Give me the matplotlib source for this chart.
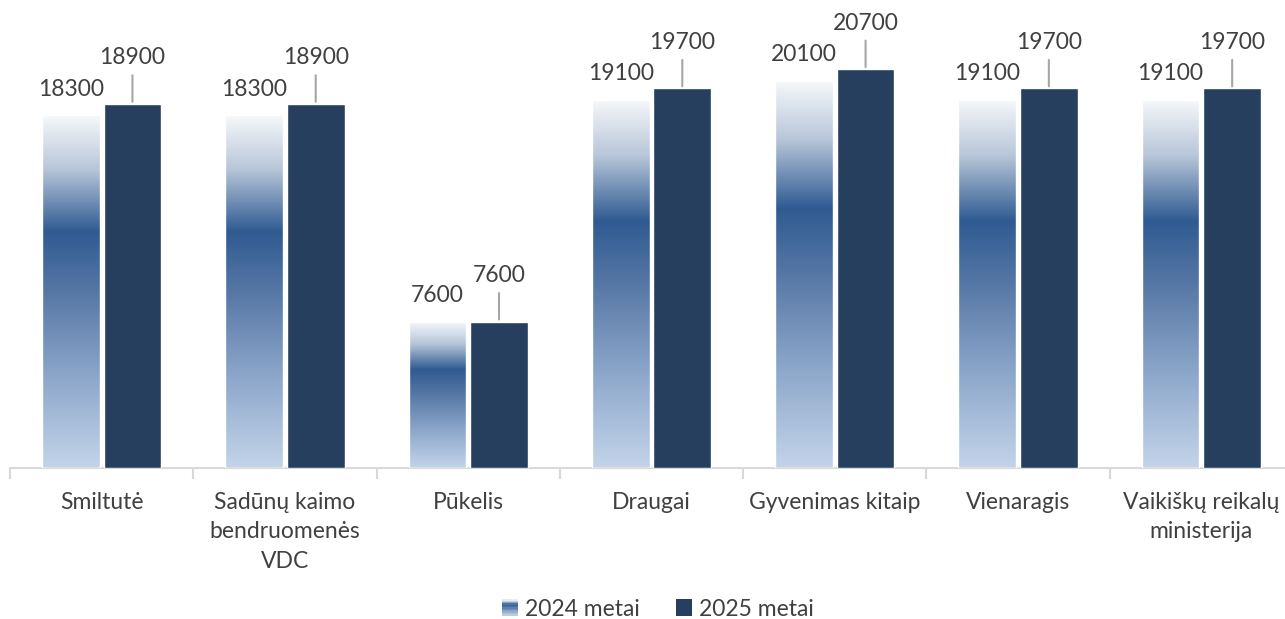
import matplotlib
matplotlib.use("Agg")
import matplotlib.pyplot as plt
import numpy as np
from matplotlib.colors import LinearSegmentedColormap
from matplotlib.legend_handler import HandlerBase
from matplotlib.patches import Rectangle

categories = [
    "Smiltutė",
    "Sadūnų kaimo\nbendruomenės\nVDC",
    "Pūkelis",
    "Draugai",
    "Gyvenimas kitaip",
    "Vienaragis",
    "Vaikiškų reikalų\nministerija",
]
values_2024 = [18300, 18300, 7600, 19100, 20100, 19100, 19100]
values_2025 = [18900, 18900, 7600, 19700, 20700, 19700, 19700]
series_names = ["2024 metai", "2025 metai"]

FONT = ["Lato", "DejaVu Sans"]
TXT = "#404040"
NAVY = "#263F5F"
FS = 16.5
GRAD = LinearSegmentedColormap.from_list(
    "bar24",
    [(0.0, "#F6F8FB"), (0.15, "#B9C7D9"), (0.33, "#2F5B92"),
     (0.5, "#5677A5"), (0.75, "#8EA8CB"), (1.0, "#C3D4E9")],
)

plt.rcParams["font.family"] = FONT

fig = plt.figure(figsize=(12.85, 6.19), dpi=100)
ax = fig.add_axes([10 / 1285, 1 - 468 / 619, 1283 / 1285, 468 / 619])

x = np.arange(len(categories))
w = 0.315
off = 0.168

# 2024: empty bar outline, gradient image clipped to it
bars24 = ax.bar(x - off, values_2024, w, facecolor="none", edgecolor="white", linewidth=1, zorder=3)
grad = np.linspace(0, 1, 256).reshape(-1, 1)
for b in bars24:
    x0, y0 = b.get_x(), b.get_y()
    im = ax.imshow(grad, cmap=GRAD, aspect="auto", origin="upper",
                   extent=(x0, x0 + b.get_width(), y0, y0 + b.get_height()), zorder=2)
    im.set_clip_path(b)
bars25 = ax.bar(x + off, values_2025, w, color=NAVY, edgecolor="white", linewidth=1, zorder=3)

for b, v in zip(bars24, values_2024):
    ax.annotate(f"{v}", (b.get_x() + b.get_width() / 2, v), xytext=(0, 26),
                textcoords="offset pixels", ha="center", va="center",
                fontsize=FS, color=TXT)
for b, v in zip(bars25, values_2025):
    cx = b.get_x() + b.get_width() / 2
    ax.annotate(f"{v}", (cx, v), xytext=(0, 46), textcoords="offset pixels",
                ha="center", va="center", fontsize=FS, color=TXT,
                arrowprops=dict(arrowstyle="-", color="#A6A6A6", lw=1.5,
                                shrinkA=3, shrinkB=1.5))

ax.set_xlim(-0.5, len(categories) - 0.5)
ax.set_ylim(0, 24290)
ax.set_xticks(np.arange(len(categories) + 1) - 0.5)
ax.set_xticklabels([])
ax.tick_params(axis="x", which="major", length=8, color="#D9D9D9", width=1.5)
ax.set_yticks([])
for s in ("top", "right", "left"):
    ax.spines[s].set_visible(False)
ax.spines["bottom"].set_color("#D9D9D9")
ax.spines["bottom"].set_linewidth(1.5)

# category names as plain texts so the line spacing sticks
for xi, name in zip(x, categories):
    ax.annotate(name, (xi, 0), xytext=(0, -24), textcoords="offset pixels",
                ha="center", va="top", fontsize=FS, color=TXT, linespacing=1.5,
                annotation_clip=False)


class GradHandler(HandlerBase):
    def create_artists(self, legend, orig, xd, yd, width, height, fontsize, trans):
        n = 12
        arts = []
        for i in range(n):
            c = GRAD(1 - (i + 0.5) / n)
            arts.append(Rectangle((xd, yd + height * i / n), width, height / n + 0.3,
                                  facecolor=c, edgecolor="none", transform=trans))
        return arts


h24 = Rectangle((0, 0), 1, 1, facecolor=GRAD(0.33))
h25 = Rectangle((0, 0), 1, 1, facecolor=NAVY)
fig.legend([h24, h25], series_names, loc="center", bbox_to_anchor=(0.512, 1 - 609 / 619),
           ncol=2, frameon=False, fontsize=FS, labelcolor=TXT,
           handler_map={h24: GradHandler()}, handlelength=0.7, handleheight=0.7,
           handletextpad=0.3, columnspacing=1.6)

fig.savefig("out.png", dpi=100)
